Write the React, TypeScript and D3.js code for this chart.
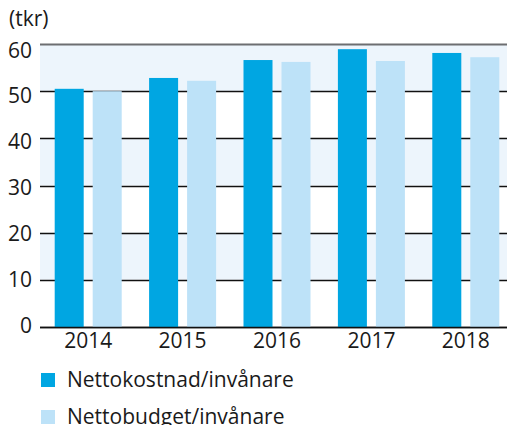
import React, { useEffect, useRef } from 'react';
import * as d3 from 'd3';

const years = ['2014', '2015', '2016', '2017', '2018'];
const seriesNames = ['Nettokostnad/invånare', 'Nettobudget/invånare'];
const nettokostnad = [50.5, 52.8, 56.6, 58.9, 58.1];
const nettobudget = [50.0, 52.2, 56.2, 56.4, 57.2];
const yTicks = [0, 10, 20, 30, 40, 50, 60];
const colors = ['#00a6e2', '#bde2f8'];

const App = () => {
  const ref = useRef<SVGSVGElement>(null);

  useEffect(() => {
    const width = 507;
    const height = 425;
    const left = 40;
    const top = 44;
    const bottom = 327;
    const font = "'Open Sans', sans-serif";
    const fs = 21;

    const svg = d3.select(ref.current);
    svg.selectAll('*').remove();

    const y = d3.scaleLinear().domain([0, 60]).range([bottom, top]);
    // tick labels are spaced a little tighter than the grid in the original
    const yLabel = d3.scaleLinear().domain([0, 60]).range([325, 50]);
    const x = d3.scaleBand().domain(years).range([41, 513]).paddingInner(0);
    const xs = d3
      .scaleBand()
      .domain(seriesNames)
      .range([x.bandwidth() / 2 - 33.5, x.bandwidth() / 2 + 33.5])
      .paddingInner(9 / 38);

    // alternating background bands
    const bands = [
      [50, 60],
      [30, 40],
      [10, 20]
    ];
    svg
      .selectAll('rect.band')
      .data(bands)
      .enter()
      .append('rect')
      .attr('x', left)
      .attr('width', width - left)
      .attr('y', (d) => y(d[1]))
      .attr('height', (d) => y(d[0]) - y(d[1]))
      .attr('fill', '#edf5fc');

    // grid lines
    svg
      .selectAll('line.grid')
      .data(yTicks)
      .enter()
      .append('line')
      .attr('x1', left)
      .attr('x2', width)
      .attr('y1', (d) => Math.round(y(d)) + 0.5)
      .attr('y2', (d) => Math.round(y(d)) + 0.5)
      .attr('stroke', (d) => (d === 60 ? '#6d6e71' : '#111'))
      .attr('stroke-width', (d) => (d === 60 ? 2 : 1.3));

    const data = years.map((yr, i) => ({ yr, values: [nettokostnad[i], nettobudget[i]] }));

    const groups = svg
      .selectAll('g.year')
      .data(data)
      .enter()
      .append('g')
      .attr('transform', (d) => `translate(${x(d.yr)},0)`);

    groups
      .selectAll('rect')
      .data((d) => d.values.map((v, j) => ({ v, s: seriesNames[j], c: colors[j] })))
      .enter()
      .append('rect')
      .attr('x', (d) => xs(d.s) as number)
      .attr('width', xs.bandwidth())
      .attr('y', (d) => y(d.v))
      .attr('height', (d) => bottom - y(d.v))
      .attr('fill', (d) => d.c);

    // zero line on top of bars
    svg
      .append('line')
      .attr('x1', left)
      .attr('x2', width)
      .attr('y1', Math.round(y(0)) + 0.5)
      .attr('y2', Math.round(y(0)) + 0.5)
      .attr('stroke', '#111')
      .attr('stroke-width', 1.5);

    // y tick labels
    svg
      .selectAll('text.ytick')
      .data(yTicks)
      .enter()
      .append('text')
      .attr('x', 32)
      .attr('y', (d) => yLabel(d) + 7.5)
      .attr('text-anchor', 'end')
      .attr('font-family', font)
      .attr('font-size', fs)
      .attr('fill', '#1a1a1a')
      .text((d) => d);

    // x labels
    svg
      .selectAll('text.xtick')
      .data(years)
      .enter()
      .append('text')
      .attr('x', (d) => (x(d) as number) + x.bandwidth() / 2)
      .attr('y', 348)
      .attr('text-anchor', 'middle')
      .attr('font-family', font)
      .attr('font-size', fs)
      .attr('fill', '#1a1a1a')
      .text((d) => d);

    svg
      .append('text')
      .attr('x', 9)
      .attr('y', 26)
      .attr('font-family', font)
      .attr('font-size', fs)
      .attr('fill', '#1a1a1a')
      .text('(tkr)');

    // legend
    const legend = svg
      .selectAll('g.legend')
      .data(seriesNames)
      .enter()
      .append('g')
      .attr('transform', (_d, i) => `translate(41,${373 + i * 37})`);
    legend
      .append('rect')
      .attr('width', 14)
      .attr('height', 14)
      .attr('fill', (_d, i) => colors[i]);
    legend
      .append('text')
      .attr('x', 26)
      .attr('y', 14)
      .attr('font-family', font)
      .attr('font-size', fs)
      .attr('fill', '#1a1a1a')
      .text((d) => d);

    svg.attr('width', width).attr('height', height);
  }, []);

  return (
    <svg
      ref={ref}
      width={507}
      height={425}
      style={{ position: 'absolute', left: 0, top: 0, display: 'block' }}
    />
  );
};

export default App;
